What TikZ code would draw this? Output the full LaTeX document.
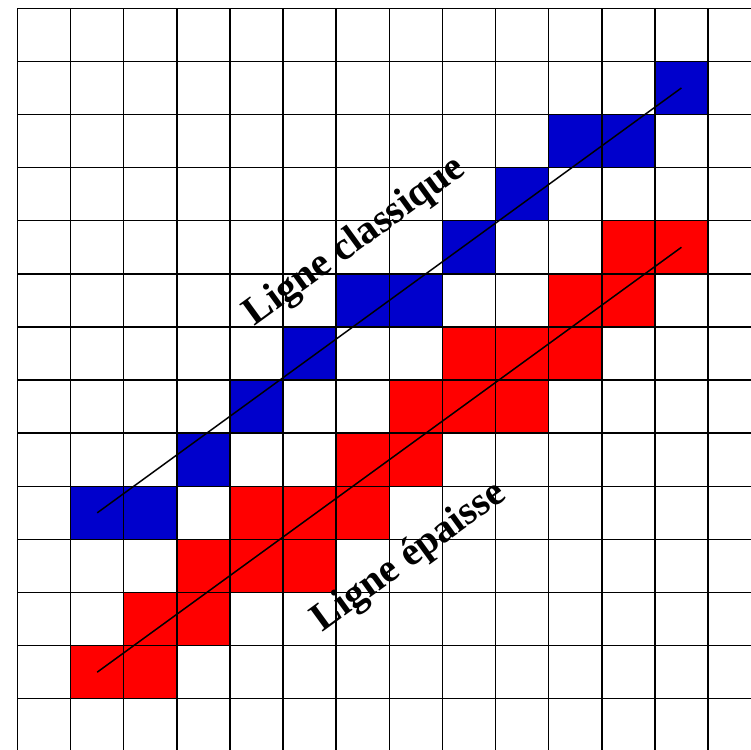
\documentclass[tikz,border=0pt]{standalone}
\usepackage{fontspec}
\setmainfont{Liberation Serif}
\definecolor{cellblue}{RGB}{0,0,204}
\definecolor{cellred}{RGB}{255,0,0}
\begin{document}
\begin{tikzpicture}[x=1cm,y=-1cm,
  gridline/.style={line width=0.8pt,black},
  bluecell/.style={fill=cellblue},
  redcell/.style={fill=cellred},
  guide/.style={line width=0.8pt,black},
  lbl/.style={font=\fontsize{21.5}{25}\selectfont\bfseries,inner sep=0pt,rotate=36.03}]
\useasboundingbox (-0.33,-0.156) rectangle (13.81,13.96);
\clip (-0.33,-0.156) rectangle (13.81,13.96);
% blue cells (classic line)
\foreach \c/\r in {12/1,10/2,11/2,9/3,8/4,6/5,7/5,5/6,4/7,3/8,1/9,2/9}
  \fill[bluecell] (\c,\r) rectangle ++(1,1);
% red cells (thick line)
\foreach \c/\r in {11/4,12/4,10/5,11/5,8/6,9/6,10/6,7/7,8/7,9/7,6/8,7/8,4/9,5/9,6/9,3/10,4/10,5/10,2/11,3/11,1/12,2/12}
  \fill[redcell] (\c,\r) rectangle ++(1,1);
% grid
\foreach \i in {0,...,14} {
  \draw[gridline] (\i,0) -- (\i,14.5);
  \draw[gridline] (0,\i) -- (14.5,\i);
}
% guide lines
\coordinate (b1) at (1.5,9.5);
\coordinate (b2) at (12.5,1.5);
\coordinate (r1) at (1.5,12.5);
\coordinate (r2) at (12.5,4.5);
\draw[guide] (b1) -- (b2);
\draw[guide] (r1) -- (r2);
% labels
\node[lbl] (lc) at (6.36,4.40) {Ligne classique};
\node[lbl] (le) at (7.38,10.34) {Ligne épaisse};
\end{tikzpicture}
\end{document}
